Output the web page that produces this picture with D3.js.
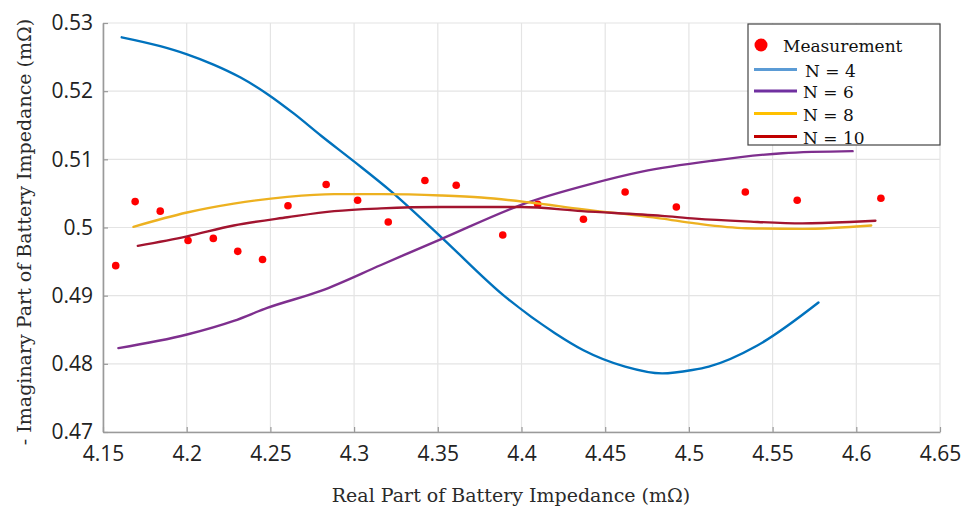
<!DOCTYPE html>
<html>
<head>
<meta charset="utf-8">
<script src="https://cdn.jsdelivr.net/npm/d3@7/dist/d3.min.js"></script>
<style>
  html, body { margin: 0; padding: 0; background: #fff; }
  svg { display: block; }
</style>
</head>
<body>
<svg id="chart" width="961" height="511"></svg>
<script>
// Tick values and labels
const xTicks = [4.15, 4.2, 4.25, 4.3, 4.35, 4.4, 4.45, 4.5, 4.55, 4.6, 4.65];
const xTickLabels = ["4.15", "4.2", "4.25", "4.3", "4.35", "4.4", "4.45", "4.5", "4.55", "4.6", "4.65"];
const yTicks = [0.47, 0.48, 0.49, 0.5, 0.51, 0.52, 0.53];
const yTickLabels = ["0.47", "0.48", "0.49", "0.5", "0.51", "0.52", "0.53"];

// Measured impedance: real part (mΩ) and negative imaginary part (mΩ)
const measReal = [4.1576, 4.1692, 4.1842, 4.2008, 4.2159, 4.2305, 4.2453, 4.2605, 4.2833, 4.3021,
                  4.3204, 4.3423, 4.3610, 4.3888, 4.4097, 4.4370, 4.4619, 4.4925, 4.5337, 4.5647, 4.6147];
const measImag = [0.4944, 0.5038, 0.5024, 0.4981, 0.4984, 0.4965, 0.4953, 0.5032, 0.5063, 0.5040,
                  0.5008, 0.5069, 0.5062, 0.4989, 0.5034, 0.5012, 0.5052, 0.5030, 0.5052, 0.5040, 0.5043];

// Model fits with N elements
const n4Real = [4.1612, 4.1842, 4.2002, 4.2160, 4.2322, 4.2481, 4.2641, 4.2801, 4.2999, 4.3221, 4.3520,
                4.3900, 4.4200, 4.4370, 4.4619, 4.4840, 4.5020, 4.5119, 4.5409, 4.5774];
const n4Imag = [0.5279, 0.5266, 0.5254, 0.5239, 0.5220, 0.5196, 0.5167, 0.5135, 0.5097, 0.5053, 0.4986,
                0.4899, 0.4845, 0.4820, 0.4796, 0.4786, 0.4791, 0.4796, 0.4827, 0.4890];

const n6Real = [4.1592, 4.2002, 4.2281, 4.2481, 4.2801, 4.3161, 4.3520, 4.4040, 4.4400,
                4.4719, 4.5139, 4.5559, 4.5978];
const n6Imag = [0.4823, 0.4843, 0.4863, 0.4882, 0.4907, 0.4945, 0.4983, 0.5037, 0.5063,
                0.5082, 0.5098, 0.5109, 0.5112];

const n8Real = [4.1682, 4.2002, 4.2281, 4.2601, 4.2881, 4.3161, 4.3520, 4.3760, 4.4040, 4.4360,
                4.4839, 4.5039, 4.5339, 4.5679, 4.6089];
const n8Imag = [0.5001, 0.5022, 0.5035, 0.5045, 0.5049, 0.5049, 0.5047, 0.5044, 0.5037, 0.5027,
                0.5013, 0.5006, 0.4999, 0.4998, 0.5003];

const n10Real = [4.1708, 4.2002, 4.2281, 4.2601, 4.2881, 4.3161, 4.3520, 4.3999, 4.4360, 4.4839,
                 4.5039, 4.5339, 4.5679, 4.5959, 4.6114];
const n10Imag = [0.4973, 0.4987, 0.5003, 0.5015, 0.5024, 0.5028, 0.5030, 0.5030, 0.5024, 0.5017,
                 0.5013, 0.5009, 0.5006, 0.5008, 0.5010];

const seriesNames = ["N = 4", "N = 6", "N = 8", "N = 10"];
const seriesReal = [n4Real, n6Real, n8Real, n10Real];
const seriesImag = [n4Imag, n6Imag, n8Imag, n10Imag];
const lineColors = ["#0072BD", "#7E2F8E", "#EDB120", "#A2142F"];
const legendColors = ["#5B9BD5", "#7030A0", "#FFC000", "#C00000"];

const svg = d3.select("#chart");
const plotLeft = 103, plotRight = 940, plotTop = 23, plotBottom = 432;

const x = d3.scaleLinear().domain([4.15, 4.65]).range([plotLeft, plotRight]);
const y = d3.scaleLinear().domain([0.47, 0.53]).range([plotBottom, plotTop]);

const tickFont = "'Open Sans', 'Noto Sans', sans-serif";
const labelFont = "'Palatino Linotype', 'Book Antiqua', Palatino, 'DejaVu Serif', serif";

// Grid
const grid = svg.append("g");
grid.selectAll("line.gx").data(xTicks).join("line")
  .attr("x1", d => x(d)).attr("x2", d => x(d))
  .attr("y1", plotTop).attr("y2", plotBottom)
  .attr("stroke", "#e4e4e4").attr("stroke-width", 1.2);
grid.selectAll("line.gy").data(yTicks).join("line")
  .attr("x1", plotLeft).attr("x2", plotRight)
  .attr("y1", d => y(d)).attr("y2", d => y(d))
  .attr("stroke", "#e4e4e4").attr("stroke-width", 1.2);

// Axes
const xAxis = d3.axisBottom(x).tickValues(xTicks)
  .tickFormat((d, i) => xTickLabels[i]).tickSizeInner(-5).tickSizeOuter(0).tickPadding(14);
const yAxis = d3.axisLeft(y).tickValues(yTicks)
  .tickFormat((d, i) => yTickLabels[i]).tickSizeInner(-5).tickSizeOuter(0).tickPadding(10);

const gx = svg.append("g").attr("transform", `translate(0,${plotBottom})`).call(xAxis);
const gy = svg.append("g").attr("transform", `translate(${plotLeft},0)`).call(yAxis);
[gx, gy].forEach(g => {
  g.select(".domain").attr("stroke", "#9a9a9a").attr("stroke-width", 1.6);
  g.selectAll(".tick line").attr("stroke", "#9a9a9a").attr("stroke-width", 1.2);
  g.selectAll(".tick text").attr("font-family", tickFont).attr("font-size", 21)
    .attr("fill", "#222");
});

// Measurements
svg.append("g").selectAll("circle").data(measReal).join("circle")
  .attr("cx", d => x(d)).attr("cy", (d, i) => y(measImag[i]))
  .attr("r", 3.8).attr("fill", "#FF0000");

// Model curves
const line = d3.line().x(d => x(d[0])).y(d => y(d[1])).curve(d3.curveMonotoneX);
seriesReal.forEach((xs, k) => {
  const pts = xs.map((v, i) => [v, seriesImag[k][i]]);
  svg.append("path").datum(pts)
    .attr("d", line)
    .attr("fill", "none")
    .attr("stroke", lineColors[k])
    .attr("stroke-width", 2.4)
    .attr("stroke-linejoin", "round")
    .attr("stroke-linecap", "round");
});

// Axis titles
svg.append("text")
  .attr("x", 511).attr("y", 502)
  .attr("text-anchor", "middle")
  .attr("font-family", labelFont).attr("font-size", 19).attr("fill", "#2a2a2a")
  .text("Real Part of Battery Impedance (mΩ)");

svg.append("text")
  .attr("transform", "translate(31,232) rotate(-90)")
  .attr("text-anchor", "middle")
  .attr("font-family", labelFont).attr("font-size", 19).attr("fill", "#2a2a2a")
  .text("- Imaginary Part of Battery Impedance (mΩ)");

// Legend
const lg = svg.append("g");
lg.append("rect").attr("x", 748).attr("y", 24).attr("width", 192).attr("height", 121)
  .attr("fill", "#fff").attr("stroke", "#444").attr("stroke-width", 1.2);
lg.append("circle").attr("cx", 761).attr("cy", 45).attr("r", 6.5).attr("fill", "#FF0000");
lg.append("text").attr("x", 783).attr("y", 52)
  .attr("font-family", labelFont).attr("font-size", 17).attr("fill", "#111")
  .text("Measurement");
const rowY = [69.5, 91, 113.5, 136.5];
seriesNames.forEach((name, k) => {
  lg.append("line").attr("x1", 754).attr("x2", 797)
    .attr("y1", rowY[k]).attr("y2", rowY[k])
    .attr("stroke", legendColors[k]).attr("stroke-width", 3);
  lg.append("text").attr("x", k === 0 ? 805 : 803).attr("y", rowY[k] + 7)
    .attr("font-family", labelFont).attr("font-size", 17).attr("fill", "#111")
    .text(name);
});
</script>
</body>
</html>
